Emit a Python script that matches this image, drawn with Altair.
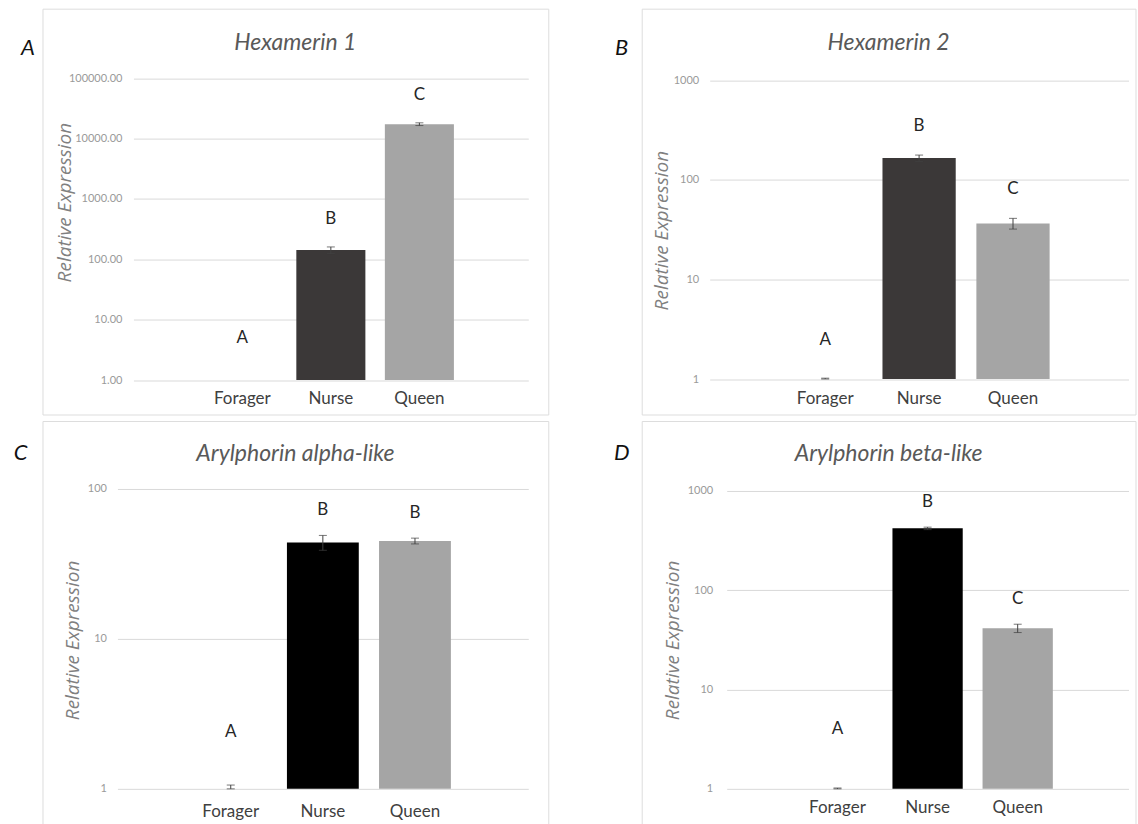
import altair as alt
import pandas as pd

# Castes on the x axis
castes = ["Forager", "Nurse", "Queen"]

# Hexamerin 1: mean relative expression, standard error, significance groups
hex1_mean = [1.0, 142.0, 17300.0]
hex1_se = [0.0, 18.0, 900.0]
hex1_groups = ["A", "B", "C"]

# Hexamerin 2
hex2_mean = [1.0, 165.0, 36.5]
hex2_se = [0.02, 12.0, 4.5]
hex2_groups = ["A", "B", "C"]

# Arylphorin alpha-like
alpha_mean = [1.0, 44.0, 45.0]
alpha_se = [0.06, 5.0, 2.0]
alpha_groups = ["A", "B", "B"]

# Arylphorin beta-like
beta_mean = [1.0, 420.0, 41.5]
beta_se = [0.02, 12.0, 4.0]
beta_groups = ["A", "B", "C"]

# Log-axis tick values per panel
hex1_ticks = [1, 10, 100, 1000, 10000, 100000]
hex2_ticks = [1, 10, 100, 1000]
alpha_ticks = [1, 10, 100]
beta_ticks = [1, 10, 100, 1000]

FONT = "Lato"
DARK_GREY = "#3b3838"
BLACK = "#000000"
LIGHT_GREY = "#a5a5a5"


def panel(tag, name, mean, se, groups, ticks, tick_fmt, shades, box,
          plot_x, plot_y, tick_pad, ytitle_at, xlabel_pad, title_y,
          tag_at, dy_first, dy_rest):
    W, H = box
    df = pd.DataFrame({"caste": castes, "mean": mean, "se": se, "group": groups})
    df["hi"] = df["mean"] + df["se"]
    df["lo"] = (df["mean"] - df["se"]).clip(lower=ticks[0])
    df["shade"] = shades

    x_axis = alt.Axis(orient="bottom", offset=-(H - plot_y[0]), title=None,
                      labelAngle=0, domain=False, ticks=False, tickSize=0,
                      grid=False, labelPadding=xlabel_pad, labelFont=FONT,
                      labelFontSize=17, labelColor="#404040",
                      labelBaseline="middle")
    x_scale = alt.Scale(range=[plot_x[0], plot_x[1]], paddingInner=0.22,
                        paddingOuter=0.84)
    y_axis = alt.Axis(values=ticks, format=tick_fmt, grid=True,
                      gridColor="#d9d9d9", gridWidth=1, domain=False,
                      ticks=False, tickSize=0, offset=-plot_x[0],
                      labelPadding=tick_pad, labelFont=FONT, labelFontSize=11,
                      labelColor="#9a9a9a", title="Relative Expression",
                      titleFont="Open Sans", titleFontStyle="italic",
                      titleFontWeight="normal", titleFontSize=19,
                      titleColor="#808080", titleX=ytitle_at[0] - plot_x[0],
                      titleY=ytitle_at[1], titleAngle=270, titleAlign="center",
                      titleBaseline="middle")
    y_scale = alt.Scale(type="log", domain=[ticks[0], ticks[-1]],
                        range=[plot_y[0], plot_y[1]], nice=False)

    def X():
        return alt.X("caste:N", sort=castes, scale=x_scale, axis=x_axis)

    def Y(field):
        return alt.Y(f"{field}:Q", scale=y_scale, axis=y_axis)

    base = alt.Chart(df)
    bars = base.mark_bar().encode(
        x=X(), y=Y("mean"), y2=alt.datum(ticks[0]),
        color=alt.Color("shade:N", scale=None),
    )
    err = base.transform_filter("datum.se > 0")
    stem = err.mark_rule(color="#404040", strokeWidth=1).encode(
        x=X(), y=Y("lo"), y2="hi:Q")
    cap_hi = err.mark_tick(color="#404040", size=8, thickness=1).encode(
        x=X(), y=Y("hi"))
    cap_lo = err.mark_tick(color="#404040", size=8, thickness=1).encode(
        x=X(), y=Y("lo"))
    letter_style = dict(font=FONT, fontSize=17, color="#262626",
                        baseline="middle", align="center")
    first = base.transform_filter("datum.caste == 'Forager'").mark_text(
        dy=-dy_first, **letter_style).encode(x=X(), y=Y("hi"), text="group:N")
    rest = base.transform_filter("datum.caste != 'Forager'").mark_text(
        dy=-dy_rest, **letter_style).encode(x=X(), y=Y("hi"), text="group:N")
    label = alt.Chart(pd.DataFrame({"tag": [tag]})).mark_text(
        font=FONT, fontSize=22, fontStyle="italic", color="#111111",
        align="center", baseline="middle").encode(
        text="tag:N", x=alt.value(tag_at[0]), y=alt.value(tag_at[1]))

    return alt.layer(bars, stem, cap_hi, cap_lo, first, rest, label).properties(
        width=W, height=H,
        title=alt.TitleParams(name, font=FONT, fontSize=23, fontStyle="italic",
                              fontWeight="normal", color="#595959",
                              anchor="middle", frame="group",
                              offset=-(title_y + 24), baseline="middle"),
    )


pa = panel("A", "Hexamerin 1", hex1_mean, hex1_se, hex1_groups, hex1_ticks,
           ".2f", [DARK_GREY, DARK_GREY, LIGHT_GREY], (506, 406),
           (91, 486), (371.5, 69.5), 11.5, (22.5, 193.5), 18, 33.5,
           (-14.5, 39.5), 42, 28)
pb = panel("B", "Hexamerin 2", hex2_mean, hex2_se, hex2_groups, hex2_ticks,
           "d", [DARK_GREY, DARK_GREY, LIGHT_GREY], (494, 406),
           (68, 487), (370.5, 71.5), 11, (20, 221.5), 19, 33.5,
           (-20, 39.5), 38, 29)
pc = panel("C", "Arylphorin alpha-like", alpha_mean, alpha_se, alpha_groups,
           alpha_ticks, "d", [BLACK, BLACK, LIGHT_GREY], (506, 410),
           (75, 486), (368, 68), 11, (30, 219), 23, 32,
           (-22, 32), 53, 25)
pd_ = panel("D", "Arylphorin beta-like", beta_mean, beta_se, beta_groups,
            beta_ticks, "d", [BLACK, BLACK, LIGHT_GREY], (494, 410),
            (85, 487), (368, 70), 14, (31, 219), 19, 32,
            (-20, 32), 59, 25)

chart = alt.concat(
    pa, pb, pc, pd_, columns=2, bounds="flush",
    spacing={"row": 6.5, "column": 93.5},
).properties(
    padding={"left": 12.5, "top": 7.5, "right": 2, "bottom": 0},
).configure_view(
    stroke="#a6a6a6", strokeWidth=1.5,
).configure(background="white")

chart.save("out.html", embed_options={"renderer": "svg", "actions": False})
